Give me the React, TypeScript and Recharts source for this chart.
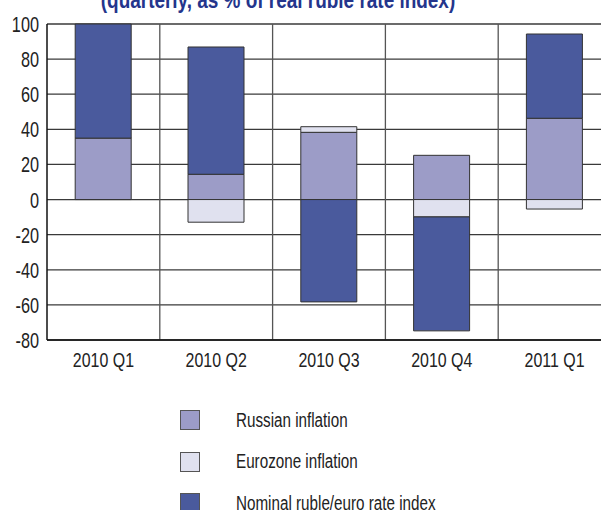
import React from "react";
import { BarChart, Bar, XAxis, YAxis, CartesianGrid, ReferenceLine } from "recharts";

const categories = ["2010 Q1", "2010 Q2", "2010 Q3", "2010 Q4", "2011 Q1"];
const russianInflation = [35, 14.4, 38.3, 25.2, 46.3];
const eurozoneInflation = [0, -12.9, 3.2, -9.9, -5.4];
const nominalRate = [65, 72.5, -58.3, -64.9, 48];
const yTicks = [-80, -60, -40, -20, 0, 20, 40, 60, 80, 100];
const boundaries = [1, 2, 3, 4];

const seriesNames = ["Russian inflation", "Eurozone inflation", "Nominal ruble/euro rate index"];
const seriesColors = ["#9c9cc7", "#e0e1ef", "#4a5a9d"];
const title = "(quarterly, as % of real ruble rate index)";

const data = categories.map((c, i) => ({
  name: c,
  idx: i + 0.5,
  russian: russianInflation[i],
  eurozone: eurozoneInflation[i],
  nominal: nominalRate[i],
}));

const FONT = "'Liberation Sans', Arial, sans-serif";

const YTick = (props: any) => {
  const { x, y, payload } = props;
  return (
    <text transform={`translate(${x},${y}) scale(0.74,1)`} textAnchor="end" dy={8} fontSize={22} fill="#222" fontFamily={FONT}>
      {payload.value}
    </text>
  );
};

const XTick = (props: any) => {
  const { x, y, payload } = props;
  return (
    <text transform={`translate(${x},${y}) scale(0.76,1)`} textAnchor="middle" dy={19} fontSize={21} fill="#222" fontFamily={FONT}>
      {payload.value}
    </text>
  );
};

export default function App() {
  return (
    <div style={{ position: "fixed", left: 0, top: 0, width: 601, height: 510, overflow: "hidden", background: "#fff", fontFamily: FONT }}>
      <svg width={601} height={20} style={{ position: "absolute", left: 0, top: 0 }}>
        <text transform="translate(278,8) scale(0.79,1)" textAnchor="middle" fontWeight="bold" fontSize={24} fill="#24358c" fontFamily={FONT}>
          {title}
        </text>
      </svg>
      <BarChart
        width={620}
        height={510}
        data={data}
        stackOffset="sign"
        barCategoryGap="25%"
        margin={{ top: 24, right: 9, left: 0, bottom: 140 }}
        style={{ position: "absolute", left: 0, top: 0 }}
      >
        <CartesianGrid vertical={false} stroke="#3a3a3a" strokeWidth={1.3} />
        <XAxis dataKey="name" xAxisId="cat" tickLine={false} axisLine={{ stroke: "#111", strokeWidth: 1.5 }} tick={<XTick />} height={30} />
        <XAxis dataKey="idx" xAxisId="grid" type="number" domain={[0, 5]} hide />
        <YAxis domain={[-80, 100]} ticks={yTicks} width={47} tickLine={false} interval={0} axisLine={{ stroke: "#111", strokeWidth: 1.5 }} tick={<YTick />} />
        {boundaries.map((b) => (
          <ReferenceLine key={b} x={b} xAxisId="grid" stroke="#555" strokeWidth={1.3} ifOverflow="visible" />
        ))}
        <Bar dataKey="russian" xAxisId="cat" stackId="s" fill={seriesColors[0]} stroke="#333" strokeWidth={1} isAnimationActive={false} />
        <Bar dataKey="eurozone" xAxisId="cat" stackId="s" fill={seriesColors[1]} stroke="#333" strokeWidth={1} isAnimationActive={false} />
        <Bar dataKey="nominal" xAxisId="cat" stackId="s" fill={seriesColors[2]} stroke="#333" strokeWidth={1} isAnimationActive={false} />
      </BarChart>
      {seriesNames.map((n, i) => (
        <div key={n} style={{ position: "absolute", left: 180, top: 409 + i * 41.5, height: 22, display: "flex", alignItems: "center" }}>
          <div style={{ width: 20, height: 20, background: seriesColors[i], border: "1px solid #555", boxSizing: "border-box" }} />
          <span style={{ marginLeft: 36, fontSize: 19.5, color: "#222", whiteSpace: "nowrap", transform: "scaleX(0.78)", transformOrigin: "left center", display: "inline-block" }}>{n}</span>
        </div>
      ))}
    </div>
  );
}
